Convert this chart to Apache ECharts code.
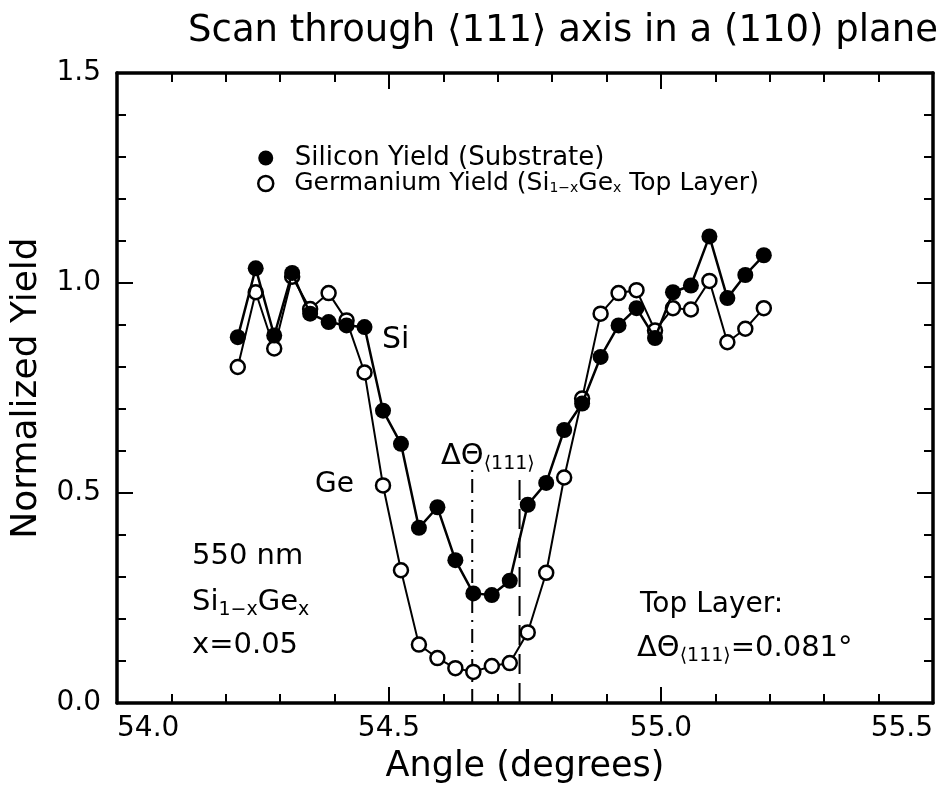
<!DOCTYPE html>
<html>
<head>
<meta charset="utf-8">
<script src="https://cdn.jsdelivr.net/npm/echarts@6/dist/echarts.min.js"></script>
<style>html,body{margin:0;padding:0;background:#fff}#c{width:951px;height:789px}</style>
</head>
<body>
<div id="c"></div>
<script>
// Angles (degrees) of the scan points
var angles = [54.222, 54.255, 54.289, 54.322, 54.355, 54.389, 54.422, 54.455, 54.489, 54.522,
              54.555, 54.589, 54.622, 54.655, 54.689, 54.722, 54.755, 54.789, 54.822, 54.855,
              54.889, 54.922, 54.955, 54.989, 55.022, 55.055, 55.089, 55.122, 55.155, 55.189];
// Silicon yield (substrate), filled circles
var siYield = [0.871, 1.035, 0.875, 1.024, 0.927, 0.907, 0.899, 0.895, 0.696, 0.617,
               0.417, 0.466, 0.340, 0.261, 0.257, 0.291, 0.472, 0.524, 0.650, 0.713,
               0.824, 0.899, 0.940, 0.869, 0.978, 0.994, 1.111, 0.964, 1.019, 1.066];
// Germanium yield (Si1-xGex top layer), open circles
var geYield = [0.800, 0.978, 0.844, 1.015, 0.938, 0.976, 0.911, 0.787, 0.518, 0.316,
               0.139, 0.107, 0.083, 0.074, 0.088, 0.095, 0.168, 0.310, 0.537, 0.725,
               0.927, 0.976, 0.983, 0.887, 0.940, 0.937, 1.005, 0.859, 0.891, 0.940];
// Vertical marker lines delimiting the channeling width
var markerAngles = [54.653, 54.740];
var markerTops = [0.555, 0.543];
var seriesNames = ['Silicon Yield (Substrate)', 'Germanium Yield (Si1-xGex Top Layer)'];

var FF = 'DejaVu Sans';
var chart = echarts.init(document.getElementById('c'), null, {renderer: 'canvas'});

function pairs(xs, ys) { return xs.map(function (x, i) { return [x, ys[i]]; }); }

function axisCommon(showLabel) {
  return {
    axisLine: {show: true, onZero: false, lineStyle: {color: '#000', width: 3.5}},
    axisTick: {show: true, inside: true, length: 16, lineStyle: {color: '#000', width: 2}},
    minorTick: {show: true, splitNumber: 5, length: 9, lineStyle: {color: '#000', width: 2}},
    splitLine: {show: false},
    minorSplitLine: {show: false},
    axisLabel: {show: showLabel, color: '#000', fontFamily: FF, fontSize: 28}
  };
}

var xb = axisCommon(true);
xb.type = 'value'; xb.min = 54; xb.max = 55.5; xb.interval = 0.5; xb.position = 'bottom';
xb.axisLabel.formatter = function (v) { return v.toFixed(1); };
xb.axisLabel.margin = 12;
xb.axisLabel.alignMinLabel = 'left';
xb.axisLabel.alignMaxLabel = 'right';
xb.name = 'Angle (degrees)'; xb.nameLocation = 'middle'; xb.nameGap = 46;
xb.nameTextStyle = {fontFamily: FF, fontSize: 35, color: '#000'};

var xt = axisCommon(false);
xt.type = 'value'; xt.min = 54; xt.max = 55.5; xt.interval = 0.5; xt.position = 'top';

var yl = axisCommon(true);
yl.type = 'value'; yl.min = 0; yl.max = 1.5; yl.interval = 0.5; yl.position = 'left';
yl.axisLabel.formatter = function (v) { return v.toFixed(1); };
yl.axisLabel.margin = 16;
yl.name = 'Normalized Yield'; yl.nameLocation = 'middle'; yl.nameGap = 72;
yl.nameTextStyle = {fontFamily: FF, fontSize: 36, color: '#000'};

var yr = axisCommon(false);
yr.type = 'value'; yr.min = 0; yr.max = 1.5; yr.interval = 0.5; yr.position = 'right';

var markerSeries = markerAngles.map(function (a, i) {
  return {
    type: 'line', xAxisIndex: 0, yAxisIndex: 0, silent: true, symbol: 'none',
    data: [[a, 0], [a, markerTops[i]]],
    lineStyle: {color: '#000', width: 2, type: i === 0 ? [14, 7, 2, 7] : [20, 9]},
    z: 1
  };
});

function rt(text, x, y, size, subSize, shift) {
  return {
    type: 'text', x: x, y: y, silent: true,
    style: {
      text: text, align: 'left', verticalAlign: 'middle', fill: '#000',
      font: size + 'px "' + FF + '"',
      rich: {
        m: {fontSize: size, fontFamily: FF, fill: '#000', lineHeight: 44},
        s: {fontSize: subSize, fontFamily: FF, fill: '#000', lineHeight: 44 - shift * 2, padding: [shift * 2, 0, 0, 0]}
      }
    }
  };
}

var option = {
  animation: false,
  backgroundColor: '#fff',
  grid: {left: 117, top: 73, width: 816, height: 633, containLabel: false},
  xAxis: [xb, xt],
  yAxis: [yl, yr],
  legend: {
    orient: 'vertical', left: 252, top: 140, itemGap: 0, itemWidth: 15, itemHeight: 15,
    selectedMode: false,
    data: [
      {name: seriesNames[0], icon: 'circle', itemStyle: {color: '#000', borderWidth: 0}},
      {name: seriesNames[1], icon: 'circle', itemStyle: {color: '#fff', borderColor: '#000', borderWidth: 2.5}}
    ],
    formatter: function (n) {
      if (n === seriesNames[0]) return '{m|  Silicon Yield (Substrate)}';
      return '{g|  Germanium Yield (Si}{s|1−x}{g|Ge}{s|x}{g| Top Layer)}';
    },
    textStyle: {
      color: '#000', fontFamily: FF, fontSize: 26,
      rich: {
        m: {fontFamily: FF, fontSize: 26, color: '#000', lineHeight: 22},
        g: {fontFamily: FF, fontSize: 25, color: '#000', lineHeight: 22},
        s: {fontFamily: FF, fontSize: 14, color: '#000', lineHeight: 14, padding: [9, 0, 0, 0]}
      }
    }
  },
  series: [
    {
      name: seriesNames[1], type: 'line', data: pairs(angles, geYield),
      symbol: 'circle', symbolSize: 14,
      itemStyle: {color: '#fff', borderColor: '#000', borderWidth: 2.5},
      lineStyle: {color: '#000', width: 2}, z: 3
    },
    {
      name: seriesNames[0], type: 'line', data: pairs(angles, siYield),
      symbol: 'circle', symbolSize: 16,
      itemStyle: {color: '#000', borderWidth: 0},
      lineStyle: {color: '#000', width: 2.5}, z: 4
    }
  ].concat(markerSeries),
  graphic: [
    {type: 'text', x: 563, y: 31, silent: true,
     style: {text: 'Scan through ⟨111⟩ axis in a (110) plane', align: 'center', verticalAlign: 'middle',
             fill: '#000', font: '37px "' + FF + '"'}},
    rt('{m|550 nm}', 192, 556, 29, 19, 8),
    rt('{m|Si}{s|1−x}{m|Ge}{s|x}', 192, 602, 29, 19, 8),
    rt('{m|x=0.05}', 192, 645, 29, 19, 8),
    rt('{m|Top Layer:}', 640, 605, 28, 19, 8),
    rt('{m|ΔΘ}{s|⟨111⟩}{m|=0.081°}', 637, 648, 29, 19, 8),
    rt('{m|Si}', 382, 340, 30, 19, 8),
    rt('{m|Ge}', 315, 485, 28, 19, 8),
    rt('{m|ΔΘ}{s|⟨111⟩}', 441, 456, 29, 19, 8)
  ]
};
chart.setOption(option);
</script>
</body>
</html>
